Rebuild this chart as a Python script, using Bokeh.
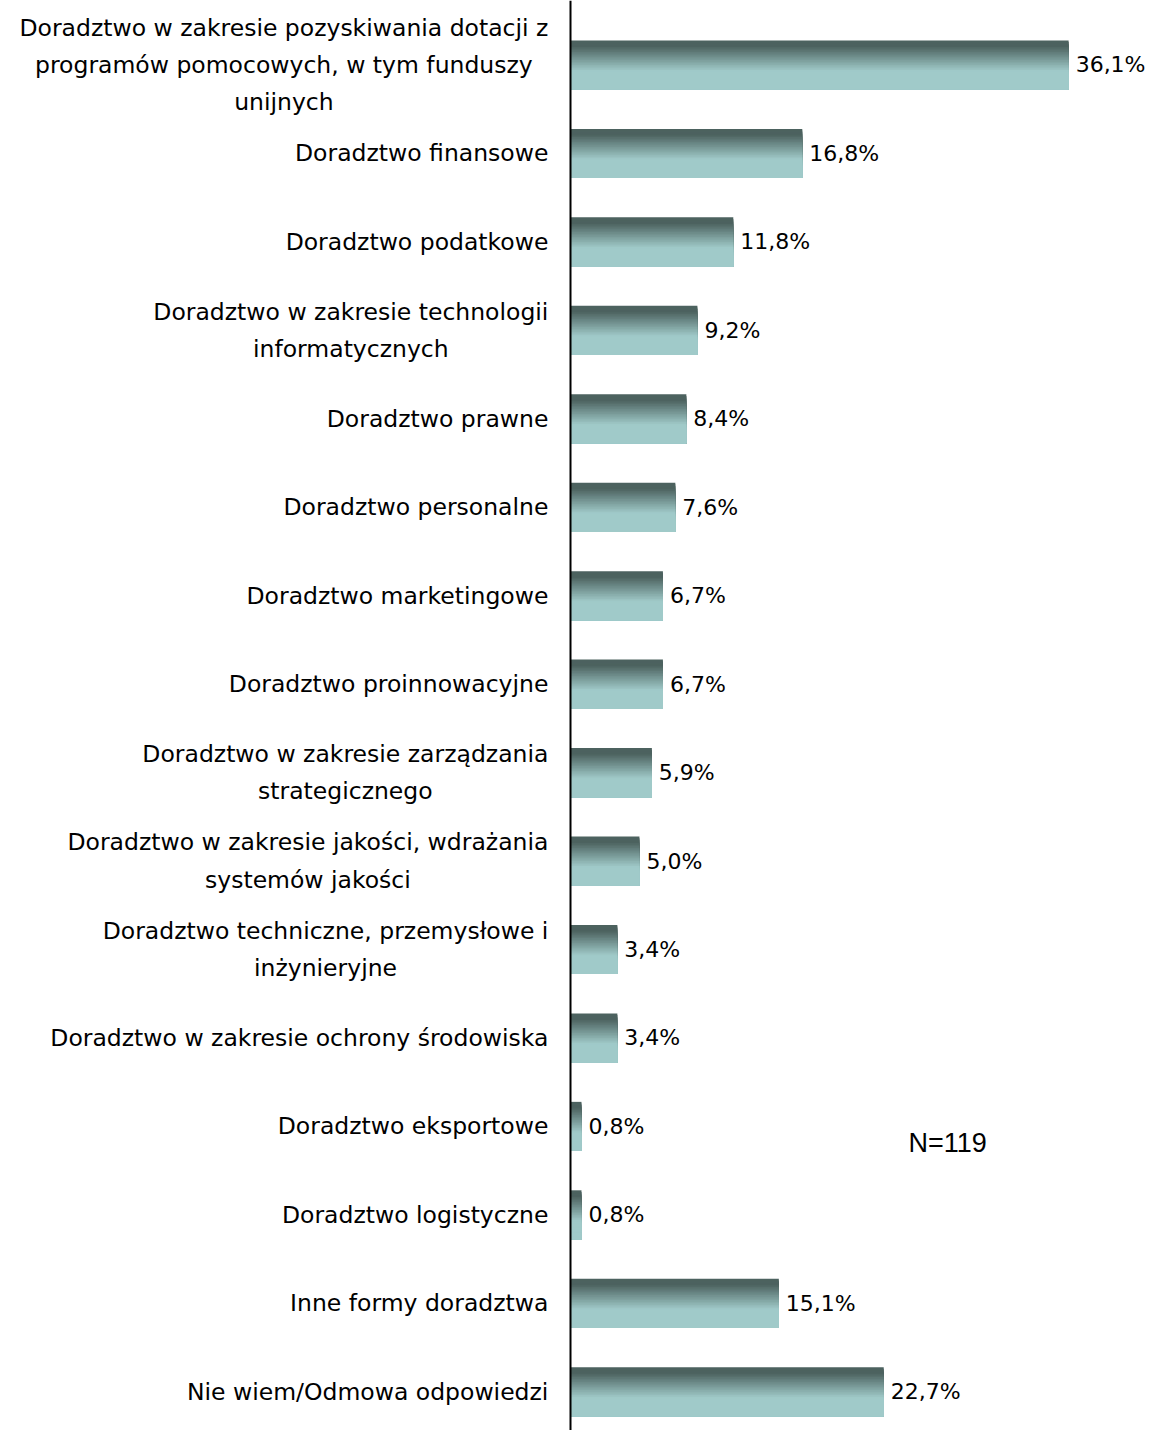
from bokeh.plotting import figure
from bokeh.models import ColumnDataSource, Label, FixedTicker
from bokeh.embed import file_html
from bokeh.resources import INLINE
from bokeh.core.properties import value

# ---- data (top to bottom) ----
categories = [
    "Doradztwo w zakresie pozyskiwania dotacji z\nprogramów pomocowych, w tym funduszy\nunijnych",
    "Doradztwo finansowe",
    "Doradztwo podatkowe",
    "Doradztwo w zakresie technologii\ninformatycznych",
    "Doradztwo prawne",
    "Doradztwo personalne",
    "Doradztwo marketingowe",
    "Doradztwo proinnowacyjne",
    "Doradztwo w zakresie zarządzania\nstrategicznego",
    "Doradztwo w zakresie jakości, wdrażania\nsystemów jakości",
    "Doradztwo techniczne, przemysłowe i\ninżynieryjne",
    "Doradztwo w zakresie ochrony środowiska",
    "Doradztwo eksportowe",
    "Doradztwo logistyczne",
    "Inne formy doradztwa",
    "Nie wiem/Odmowa odpowiedzi",
]
values = [36.1, 16.8, 11.8, 9.2, 8.4, 7.6, 6.7, 6.7, 5.9, 5.0, 3.4, 3.4, 0.8, 0.8, 15.1, 22.7]
note = "N=119"

FONT = "DejaVu Sans"
n = len(categories)
pos = list(range(n))

W, H = 1149, 1430
p = figure(width=W, height=H, output_backend="svg", toolbar_location=None,
           x_range=(-41.30, 41.96), y_range=(15.438, -0.729),
           min_border_left=0, min_border_right=0, min_border_top=0, min_border_bottom=0)
p.outline_line_color = None
p.grid.visible = False
p.xaxis.visible = False
p.yaxis.fixed_location = 0
p.yaxis.ticker = FixedTicker(ticks=[])
p.yaxis.axis_line_color = "black"
p.yaxis.axis_line_width = 2
p.yaxis.major_tick_line_color = None
p.yaxis.minor_tick_line_color = None

# ---- gradient bars (overlapping strips, each reaching the bar bottom) ----
bar_h = 0.555
K = 30
dark = (76, 98, 95)
light = (160, 202, 201)

def shade(f):
    if f <= 0.12:
        t = 0.0
    elif f >= 0.62:
        t = 1.0
    else:
        t = (f - 0.12) / (0.62 - 0.12)
    c = tuple(int(round(dark[j] + (light[j] - dark[j]) * t)) for j in range(3))
    return "#%02x%02x%02x" % c

ys, hs, rights, cols = [], [], [], []
for i, v in zip(pos, values):
    bottom = i + bar_h / 2
    for k in range(K):
        f0 = k / K
        top = i - bar_h / 2 + f0 * bar_h
        ys.append((top + bottom) / 2)
        hs.append(bottom - top)
        rights.append(v)
        cols.append(shade(f0 + 0.5 / K))
strip_src = ColumnDataSource(dict(y=ys, h=hs, right=rights, color=cols))
p.hbar(y="y", left=0, right="right", height="h", source=strip_src,
       fill_color="color", line_color=None)

# ---- category labels ----
src = ColumnDataSource(dict(
    y=pos, v=values, cat=categories,
    lab=[("%.1f" % v).replace(".", ",") + "%" for v in values],
    lx=[-1.6] * n,
))
p.text(x="lx", y="y", text="cat", source=src, anchor="center_right", text_align="center",
       text_baseline="middle", text_font=value(FONT), text_font_size="23.5px",
       text_color="black", text_line_height=1.33)

# ---- value labels ----
p.text(x="v", y="y", text="lab", source=src, x_offset=7, text_align="left",
       text_baseline="middle", text_font=value(FONT), text_font_size="22px",
       text_color="black")

p.add_layout(Label(x=24.5, y=12.19, text=note, text_font="Liberation Sans",
                   text_font_size="27px", text_baseline="middle", text_color="black"))

open("out.html", "w").write(file_html(p, INLINE))
